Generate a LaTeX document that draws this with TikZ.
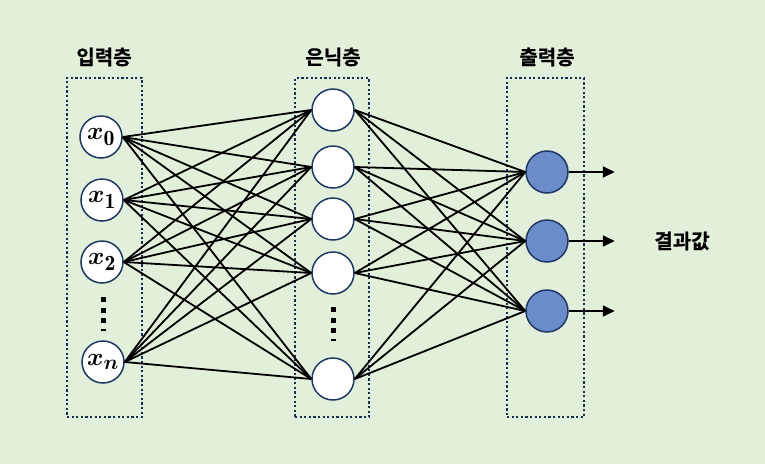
\documentclass[tikz,border=0pt]{standalone}
\usepackage{amsmath,amssymb}
\usepackage{fontspec}
\newfontfamily\krfont{Noto Sans CJK KR}[BoldFont={Noto Sans CJK KR Bold}, BoldFeatures={FakeBold=0.6}]
\usepackage{tikz}
\usetikzlibrary{arrows.meta, positioning, calc}
\definecolor{bggreen}{HTML}{E2EFDA}
\definecolor{navy}{HTML}{1F3864}
\definecolor{outblue}{HTML}{6A8CC8}
\tikzstyle{layerbox} = [draw=navy!80!black, line width=2.2pt, dash pattern=on 2.2pt off 2.4pt, minimum width=75pt, minimum height=339pt, inner sep=0pt]
\tikzstyle{neuron} = [draw=navy, circle, line width=1.5pt, fill=white, minimum size=42pt, inner sep=0pt]
\tikzstyle{outneuron} = [neuron, fill=outblue]
\tikzstyle{title} = [font=\krfont\bfseries\fontsize{20}{22}\selectfont]
\tikzstyle{link} = [line width=1.8pt, black]
\tikzstyle{arrow} = [line width=1.8pt, -{Triangle[length=12pt,width=11pt]}]
\newcommand{\xin}[1]{\fontsize{31}{33}\selectfont$\boldsymbol{x}_{#1}$}

\begin{document}
\begin{tikzpicture}[x=1pt, y=-1pt]
    \fill[bggreen] (0,0) rectangle (765,464);
    \useasboundingbox (0,0) rectangle (765,464);

    % Layer boxes
    \node (inbox) [layerbox] at (104.5,247.5) {};
    \node (hidbox) [layerbox, minimum width=74pt] at (332,247.5) {};
    \node (outbox) [layerbox, minimum width=77pt] at (545.5,247.5) {};
    \node (intitle) [title] at (104,57) {입력층};
    \node (hidtitle) [title] at (333,57) {은닉층};
    \node (outtitle) [title] at (547,57) {출력층};

    % Input nodes
    \node (i1) [neuron] at (101,137) {\xin{\mathbf{0}}};
    \node (i2) [neuron] at (102,200) {\xin{\mathbf{1}}};
    \node (i3) [neuron] at (102,262) {\xin{\mathbf{2}}};
    \node (i4) [neuron] at (103,362) {\xin{\boldsymbol{n}}};

    % Hidden nodes
    \node (h1) [neuron] at (333,110) {};
    \node (h2) [neuron] at (333,167) {};
    \node (h3) [neuron] at (333,219) {};
    \node (h4) [neuron] at (333,273) {};
    \node (h5) [neuron] at (333,379) {};

    % Output nodes
    \node (o1) [outneuron] at (547,172) {};
    \node (o2) [outneuron] at (547,241) {};
    \node (o3) [outneuron] at (547,311) {};
    \node (result) [title] at (682,241) {결과값};

    % Vertical dots
    \draw[line width=5pt, dash pattern=on 5pt off 5.5pt] (103,297) -- (103,331);
    \draw[line width=5pt, dash pattern=on 5pt off 5.5pt] (333,307) -- (333,341);

    % Connections
    \foreach \i in {1,...,4}
        \foreach \h in {1,...,5}
            \draw [link] (i\i.east) -- (h\h.west);
    \foreach \h in {1,...,5}
        \foreach \o in {1,...,3}
            \draw [link] (h\h.east) -- (o\o.west);

    % Outputs
    \foreach \o in {1,...,3}{
        \coordinate (r\o) at ($(o\o.east)+(46,0)$);
        \draw [arrow] (o\o.east) -- (r\o);
    }
\end{tikzpicture}
\end{document}
